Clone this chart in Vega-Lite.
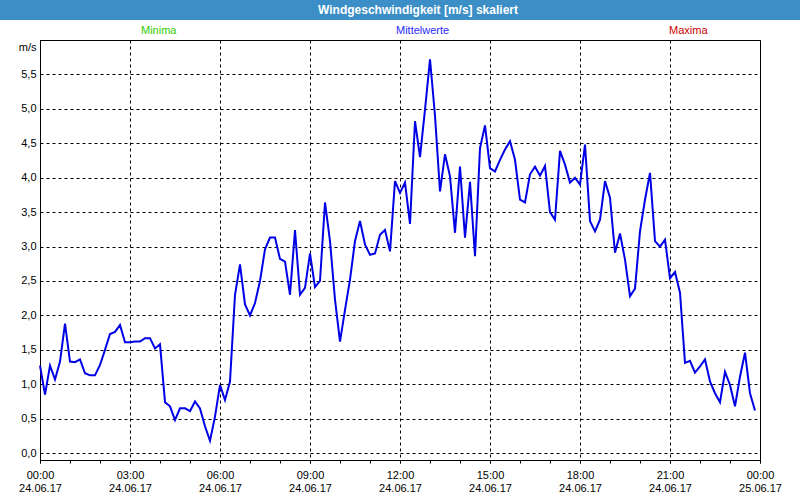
{
  "$schema": "https://vega.github.io/schema/vega-lite/v6.json",
  "autosize": "none",
  "padding": {"left": 40, "top": 40, "right": 40, "bottom": 40},
  "width": 720,
  "height": 420,
  "background": "white",
  "config": {
    "font": "Liberation Sans",
    "view": {"stroke": "black", "strokeWidth": 1},
    "axisY": {
      "title": "m/s",
      "titleAngle": 0,
      "titleAlign": "right",
      "titleBaseline": "middle",
      "titleX": -4,
      "titleY": 7,
      "titleFontSize": 11,
      "titleFontWeight": "normal",
      "titleColor": "black",
      "values": [0, 0.5, 1, 1.5, 2, 2.5, 3, 3.5, 4, 4.5, 5, 5.5],
      "grid": true,
      "gridColor": "black",
      "gridDash": [3, 3],
      "gridWidth": 1,
      "gridOpacity": 1,
      "domainColor": "black",
      "ticks": false,
      "labelPadding": 4,
      "labelColor": "black",
      "labelFontSize": 11,
      "labelOverlap": false,
      "labelExpr": "datum.value > 5.9 ? '' : floor(datum.value) + ',' + (round(datum.value * 10) % 10)"
    }
  },
  "resolve": {"axis": {"x": "independent"}},
  "layer": [
    {
      "data": {"values": [
        {"min":0,"v":1.27,"s":"Mittelwerte"},{"min":10,"v":0.85,"s":"Mittelwerte"},{"min":20,"v":1.27,"s":"Mittelwerte"},{"min":30,"v":1.07,"s":"Mittelwerte"},{"min":40,"v":1.33,"s":"Mittelwerte"},{"min":50,"v":1.88,"s":"Mittelwerte"},
        {"min":60,"v":1.33,"s":"Mittelwerte"},{"min":70,"v":1.32,"s":"Mittelwerte"},{"min":80,"v":1.36,"s":"Mittelwerte"},{"min":90,"v":1.16,"s":"Mittelwerte"},{"min":100,"v":1.13,"s":"Mittelwerte"},{"min":110,"v":1.13,"s":"Mittelwerte"},
        {"min":120,"v":1.28,"s":"Mittelwerte"},{"min":130,"v":1.50,"s":"Mittelwerte"},{"min":140,"v":1.73,"s":"Mittelwerte"},{"min":150,"v":1.76,"s":"Mittelwerte"},{"min":160,"v":1.86,"s":"Mittelwerte"},{"min":170,"v":1.61,"s":"Mittelwerte"},
        {"min":180,"v":1.61,"s":"Mittelwerte"},{"min":190,"v":1.62,"s":"Mittelwerte"},{"min":200,"v":1.62,"s":"Mittelwerte"},{"min":210,"v":1.67,"s":"Mittelwerte"},{"min":220,"v":1.67,"s":"Mittelwerte"},{"min":230,"v":1.52,"s":"Mittelwerte"},
        {"min":240,"v":1.58,"s":"Mittelwerte"},{"min":250,"v":0.74,"s":"Mittelwerte"},{"min":260,"v":0.68,"s":"Mittelwerte"},{"min":270,"v":0.48,"s":"Mittelwerte"},{"min":280,"v":0.65,"s":"Mittelwerte"},{"min":290,"v":0.65,"s":"Mittelwerte"},
        {"min":300,"v":0.61,"s":"Mittelwerte"},{"min":310,"v":0.75,"s":"Mittelwerte"},{"min":320,"v":0.65,"s":"Mittelwerte"},{"min":330,"v":0.39,"s":"Mittelwerte"},{"min":340,"v":0.18,"s":"Mittelwerte"},{"min":350,"v":0.53,"s":"Mittelwerte"},
        {"min":360,"v":0.99,"s":"Mittelwerte"},{"min":370,"v":0.77,"s":"Mittelwerte"},{"min":380,"v":1.04,"s":"Mittelwerte"},{"min":390,"v":2.30,"s":"Mittelwerte"},{"min":400,"v":2.74,"s":"Mittelwerte"},{"min":410,"v":2.16,"s":"Mittelwerte"},
        {"min":420,"v":2.00,"s":"Mittelwerte"},{"min":430,"v":2.18,"s":"Mittelwerte"},{"min":440,"v":2.50,"s":"Mittelwerte"},{"min":450,"v":2.96,"s":"Mittelwerte"},{"min":460,"v":3.13,"s":"Mittelwerte"},{"min":470,"v":3.13,"s":"Mittelwerte"},
        {"min":480,"v":2.82,"s":"Mittelwerte"},{"min":490,"v":2.78,"s":"Mittelwerte"},{"min":500,"v":2.30,"s":"Mittelwerte"},{"min":510,"v":3.24,"s":"Mittelwerte"},{"min":520,"v":2.30,"s":"Mittelwerte"},{"min":530,"v":2.40,"s":"Mittelwerte"},
        {"min":540,"v":2.90,"s":"Mittelwerte"},{"min":550,"v":2.41,"s":"Mittelwerte"},{"min":560,"v":2.50,"s":"Mittelwerte"},{"min":570,"v":3.64,"s":"Mittelwerte"},{"min":580,"v":3.08,"s":"Mittelwerte"},{"min":590,"v":2.23,"s":"Mittelwerte"},
        {"min":600,"v":1.62,"s":"Mittelwerte"},{"min":610,"v":2.08,"s":"Mittelwerte"},{"min":620,"v":2.52,"s":"Mittelwerte"},{"min":630,"v":3.08,"s":"Mittelwerte"},{"min":640,"v":3.37,"s":"Mittelwerte"},{"min":650,"v":3.03,"s":"Mittelwerte"},
        {"min":660,"v":2.88,"s":"Mittelwerte"},{"min":670,"v":2.90,"s":"Mittelwerte"},{"min":680,"v":3.17,"s":"Mittelwerte"},{"min":690,"v":3.24,"s":"Mittelwerte"},{"min":700,"v":2.93,"s":"Mittelwerte"},{"min":710,"v":3.95,"s":"Mittelwerte"},
        {"min":720,"v":3.78,"s":"Mittelwerte"},{"min":730,"v":3.93,"s":"Mittelwerte"},{"min":740,"v":3.33,"s":"Mittelwerte"},{"min":750,"v":4.82,"s":"Mittelwerte"},{"min":760,"v":4.30,"s":"Mittelwerte"},{"min":770,"v":4.99,"s":"Mittelwerte"},
        {"min":780,"v":5.72,"s":"Mittelwerte"},{"min":790,"v":4.90,"s":"Mittelwerte"},{"min":800,"v":3.80,"s":"Mittelwerte"},{"min":810,"v":4.34,"s":"Mittelwerte"},{"min":820,"v":4.02,"s":"Mittelwerte"},{"min":830,"v":3.20,"s":"Mittelwerte"},
        {"min":840,"v":4.16,"s":"Mittelwerte"},{"min":850,"v":3.13,"s":"Mittelwerte"},{"min":860,"v":3.94,"s":"Mittelwerte"},{"min":870,"v":2.86,"s":"Mittelwerte"},{"min":880,"v":4.43,"s":"Mittelwerte"},{"min":890,"v":4.76,"s":"Mittelwerte"},
        {"min":900,"v":4.14,"s":"Mittelwerte"},{"min":910,"v":4.09,"s":"Mittelwerte"},{"min":920,"v":4.26,"s":"Mittelwerte"},{"min":930,"v":4.41,"s":"Mittelwerte"},{"min":940,"v":4.53,"s":"Mittelwerte"},{"min":950,"v":4.26,"s":"Mittelwerte"},
        {"min":960,"v":3.68,"s":"Mittelwerte"},{"min":970,"v":3.64,"s":"Mittelwerte"},{"min":980,"v":4.05,"s":"Mittelwerte"},{"min":990,"v":4.16,"s":"Mittelwerte"},{"min":1000,"v":4.03,"s":"Mittelwerte"},{"min":1010,"v":4.17,"s":"Mittelwerte"},
        {"min":1020,"v":3.50,"s":"Mittelwerte"},{"min":1030,"v":3.39,"s":"Mittelwerte"},{"min":1040,"v":4.39,"s":"Mittelwerte"},{"min":1050,"v":4.19,"s":"Mittelwerte"},{"min":1060,"v":3.93,"s":"Mittelwerte"},{"min":1070,"v":4.00,"s":"Mittelwerte"},
        {"min":1080,"v":3.90,"s":"Mittelwerte"},{"min":1090,"v":4.48,"s":"Mittelwerte"},{"min":1100,"v":3.37,"s":"Mittelwerte"},{"min":1110,"v":3.22,"s":"Mittelwerte"},{"min":1120,"v":3.39,"s":"Mittelwerte"},{"min":1130,"v":3.95,"s":"Mittelwerte"},
        {"min":1140,"v":3.71,"s":"Mittelwerte"},{"min":1150,"v":2.91,"s":"Mittelwerte"},{"min":1160,"v":3.19,"s":"Mittelwerte"},{"min":1170,"v":2.81,"s":"Mittelwerte"},{"min":1180,"v":2.28,"s":"Mittelwerte"},{"min":1190,"v":2.39,"s":"Mittelwerte"},
        {"min":1200,"v":3.22,"s":"Mittelwerte"},{"min":1210,"v":3.68,"s":"Mittelwerte"},{"min":1220,"v":4.07,"s":"Mittelwerte"},{"min":1230,"v":3.08,"s":"Mittelwerte"},{"min":1240,"v":3.00,"s":"Mittelwerte"},{"min":1250,"v":3.10,"s":"Mittelwerte"},
        {"min":1260,"v":2.54,"s":"Mittelwerte"},{"min":1270,"v":2.63,"s":"Mittelwerte"},{"min":1280,"v":2.33,"s":"Mittelwerte"},{"min":1290,"v":1.31,"s":"Mittelwerte"},{"min":1300,"v":1.34,"s":"Mittelwerte"},{"min":1310,"v":1.17,"s":"Mittelwerte"},
        {"min":1320,"v":1.26,"s":"Mittelwerte"},{"min":1330,"v":1.36,"s":"Mittelwerte"},{"min":1340,"v":1.04,"s":"Mittelwerte"},{"min":1350,"v":0.87,"s":"Mittelwerte"},{"min":1360,"v":0.74,"s":"Mittelwerte"},{"min":1370,"v":1.18,"s":"Mittelwerte"},
        {"min":1380,"v":0.99,"s":"Mittelwerte"},{"min":1390,"v":0.68,"s":"Mittelwerte"},{"min":1400,"v":1.11,"s":"Mittelwerte"},{"min":1410,"v":1.46,"s":"Mittelwerte"},{"min":1420,"v":0.87,"s":"Mittelwerte"},{"min":1430,"v":0.62,"s":"Mittelwerte"}
      ]},
      "mark": {"type": "line", "strokeWidth": 2},
      "encoding": {
        "x": {
          "field": "min",
          "type": "quantitative",
          "scale": {"domain": [0, 1440], "nice": false, "zero": false},
          "axis": {
            "orient": "bottom",
            "title": null,
            "values": [0, 180, 360, 540, 720, 900, 1080, 1260, 1440],
            "grid": true,
            "gridColor": "black",
            "gridDash": [3, 3],
            "gridWidth": 1,
            "gridOpacity": 1,
            "domainColor": "black",
            "tickColor": "black",
            "tickSize": 3,
            "labelPadding": 6,
            "labelColor": "black",
            "labelFontSize": 11,
            "labelBaseline": "top",
            "labelFlush": false,
            "labelOverlap": false,
            "labelExpr": "(floor(datum.value / 60) % 24 < 10 ? '0' : '') + (floor(datum.value / 60) % 24) + ':00'"
          }
        },
        "y": {
          "field": "v",
          "type": "quantitative",
          "title": "m/s",
          "scale": {"domain": [-0.1, 6.0], "nice": false, "zero": false}
        },
        "color": {
          "field": "s",
          "type": "nominal",
          "scale": {"domain": ["Minima", "Mittelwerte", "Maxima"], "range": ["#33cc00", "#0000e6", "#cc0000"]},
          "legend": {
            "title": null,
            "orient": "none",
            "direction": "horizontal",
            "legendX": 90,
            "legendY": -15,
            "columnPadding": 208,
            "symbolSize": 0,
            "symbolOpacity": 0,
            "symbolStrokeWidth": 0,
            "labelOffset": 0,
            "labelFontSize": 11,
            "labelColor": "#2a2aff",
            "encode": {"labels": {"update": {"fill": {"signal": "datum.value == 'Minima' ? '#33cc00' : datum.value == 'Maxima' ? '#cc0000' : '#2a2aff'"}}}}
          }
        }
      }
    },
    {
      "data": {"values": [{"label": "Windgeschwindigkeit [m/s] skaliert"}]},
      "mark": {"type": "rect", "color": "#3b8fc6"},
      "encoding": {
        "x": {
          "datum": -80,
          "type": "quantitative",
          "axis": {
            "orient": "bottom",
            "title": null,
            "values": [0, 180, 360, 540, 720, 900, 1080, 1260, 1440],
            "grid": false,
            "domain": false,
            "ticks": false,
            "tickSize": 0,
            "labelPadding": 22,
            "labelColor": "black",
            "labelFontSize": 11,
            "labelBaseline": "top",
            "labelFlush": false,
            "labelOverlap": false,
            "labelExpr": "datum.value < 1440 ? '24.06.17' : '25.06.17'"
          }
        },
        "x2": {"datum": 1520},
        "y": {"datum": 6.6, "type": "quantitative", "title": "m/s"},
        "y2": {"datum": 6.29}
      }
    },
    {
      "data": {"values": [{"label": "Windgeschwindigkeit [m/s] skaliert"}]},
      "mark": {"type": "text", "color": "white", "fontSize": 12, "fontWeight": "bold"},
      "encoding": {
        "x": {
          "datum": 756,
          "type": "quantitative",
          "axis": {
            "orient": "bottom",
            "title": null,
            "values": [0, 60, 120, 180, 240, 300, 360, 420, 480, 540, 600, 660, 720, 780, 840, 900, 960, 1020, 1080, 1140, 1200, 1260, 1320, 1380, 1440],
            "grid": false,
            "domain": false,
            "labels": false,
            "ticks": true,
            "tickSize": 3,
            "tickColor": "black"
          }
        },
        "y": {"datum": 6.436, "type": "quantitative", "title": "m/s"},
        "text": {"field": "label", "type": "nominal"}
      }
    }
  ]
}
